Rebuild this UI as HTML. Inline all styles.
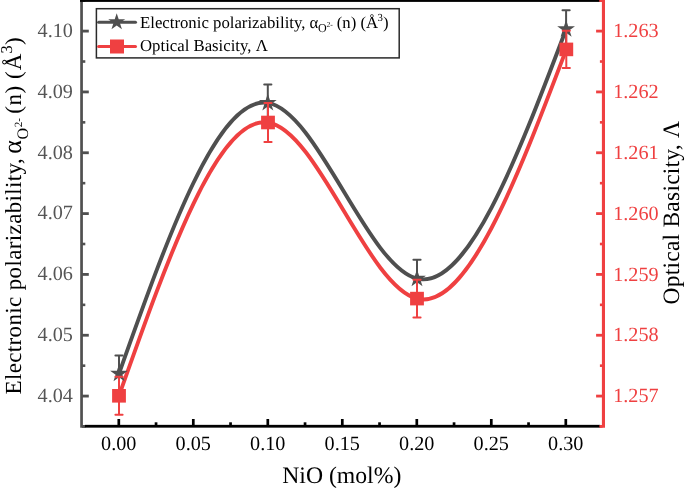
<!DOCTYPE html>
<html><head><meta charset="utf-8"><style>
html,body{margin:0;padding:0;background:#fff;}
body{width:685px;height:488px;overflow:hidden;font-family:"Liberation Serif",serif;}
svg{display:block;text-rendering:geometricPrecision;will-change:transform;}
</style></head><body>
<svg width="685" height="488" viewBox="0 0 685 488">
<path d="M119.00,373.60 C168.60,234.24 218.20,94.88 267.80,102.90 C317.40,110.92 367.40,266.32 417.00,278.60 C466.60,290.88 516.50,160.04 566.10,29.20" fill="none" stroke="#4f4f4f" stroke-width="3.9"/>
<path d="M119.00,395.80 C168.67,255.30 218.33,114.80 268.00,122.50 C317.67,130.20 367.33,286.08 417.00,298.60 C466.67,311.12 516.63,180.26 566.30,49.40" fill="none" stroke="#ef4041" stroke-width="3.9"/>
<path d="M119.00,355.60V391.60M115.40,355.60H122.60M115.40,391.60H122.60" stroke="#4f4f4f" stroke-width="2" stroke-linecap="round" fill="none"/>
<path d="M267.80,84.40V121.40M264.20,84.40H271.40M264.20,121.40H271.40" stroke="#4f4f4f" stroke-width="2" stroke-linecap="round" fill="none"/>
<path d="M417.00,259.70V297.50M413.40,259.70H420.60M413.40,297.50H420.60" stroke="#4f4f4f" stroke-width="2" stroke-linecap="round" fill="none"/>
<path d="M566.10,10.20V48.20M562.50,10.20H569.70M562.50,48.20H569.70" stroke="#4f4f4f" stroke-width="2" stroke-linecap="round" fill="none"/>
<path d="M119.00,364.25 L121.10,370.71 L127.89,370.71 L122.40,374.70 L124.50,381.16 L119.00,377.17 L113.50,381.16 L115.60,374.70 L110.11,370.71 L116.90,370.71Z" fill="#4f4f4f"/>
<path d="M267.80,93.55 L269.90,100.01 L276.69,100.01 L271.20,104.00 L273.30,110.46 L267.80,106.47 L262.30,110.46 L264.40,104.00 L258.91,100.01 L265.70,100.01Z" fill="#4f4f4f"/>
<path d="M417.00,269.25 L419.10,275.71 L425.89,275.71 L420.40,279.70 L422.50,286.16 L417.00,282.17 L411.50,286.16 L413.60,279.70 L408.11,275.71 L414.90,275.71Z" fill="#4f4f4f"/>
<path d="M566.10,19.85 L568.20,26.31 L574.99,26.31 L569.50,30.30 L571.60,36.76 L566.10,32.77 L560.60,36.76 L562.70,30.30 L557.21,26.31 L564.00,26.31Z" fill="#4f4f4f"/>
<path d="M119.00,376.80V414.80M115.40,376.80H122.60M115.40,414.80H122.60" stroke="#ef4041" stroke-width="2" stroke-linecap="round" fill="none"/>
<rect x="112.10" y="389.00" width="13.8" height="13.6" fill="#ef4041"/>
<path d="M268.00,102.90V142.10M264.40,102.90H271.60M264.40,142.10H271.60" stroke="#ef4041" stroke-width="2" stroke-linecap="round" fill="none"/>
<rect x="261.10" y="115.70" width="13.8" height="13.6" fill="#ef4041"/>
<path d="M417.00,279.80V317.40M413.40,279.80H420.60M413.40,317.40H420.60" stroke="#ef4041" stroke-width="2" stroke-linecap="round" fill="none"/>
<rect x="410.10" y="291.80" width="13.8" height="13.6" fill="#ef4041"/>
<path d="M566.30,30.80V68.00M562.70,30.80H569.90M562.70,68.00H569.90" stroke="#ef4041" stroke-width="2" stroke-linecap="round" fill="none"/>
<rect x="559.40" y="42.60" width="13.8" height="13.6" fill="#ef4041"/>
<rect x="117.45" y="419.0" width="2.7" height="6" fill="#000"/><rect x="154.70" y="422.3" width="2.7" height="3" fill="#000"/><rect x="191.95" y="419.0" width="2.7" height="6" fill="#000"/><rect x="229.20" y="422.3" width="2.7" height="3" fill="#000"/><rect x="266.45" y="419.0" width="2.7" height="6" fill="#000"/><rect x="303.70" y="422.3" width="2.7" height="3" fill="#000"/><rect x="340.95" y="419.0" width="2.7" height="6" fill="#000"/><rect x="378.20" y="422.3" width="2.7" height="3" fill="#000"/><rect x="415.45" y="419.0" width="2.7" height="6" fill="#000"/><rect x="452.70" y="422.3" width="2.7" height="3" fill="#000"/><rect x="489.95" y="419.0" width="2.7" height="6" fill="#000"/><rect x="527.20" y="422.3" width="2.7" height="3" fill="#000"/><rect x="564.45" y="419.0" width="2.7" height="6" fill="#000"/>
<rect x="82" y="29.70" width="6.8" height="2.8" fill="#505050"/><rect x="82" y="60.22" width="3.3" height="2.6" fill="#505050"/><rect x="82" y="90.53" width="6.8" height="2.8" fill="#505050"/><rect x="82" y="121.05" width="3.3" height="2.6" fill="#505050"/><rect x="82" y="151.36" width="6.8" height="2.8" fill="#505050"/><rect x="82" y="181.87" width="3.3" height="2.6" fill="#505050"/><rect x="82" y="212.19" width="6.8" height="2.8" fill="#505050"/><rect x="82" y="242.70" width="3.3" height="2.6" fill="#505050"/><rect x="82" y="273.02" width="6.8" height="2.8" fill="#505050"/><rect x="82" y="303.54" width="3.3" height="2.6" fill="#505050"/><rect x="82" y="333.85" width="6.8" height="2.8" fill="#505050"/><rect x="82" y="364.37" width="3.3" height="2.6" fill="#505050"/><rect x="82" y="394.68" width="6.8" height="2.8" fill="#505050"/><rect x="82" y="425.20" width="3.3" height="2.6" fill="#505050"/><rect x="82" y="-0.61" width="3.3" height="2.6" fill="#505050"/>
<rect x="596.1" y="29.70" width="6.5" height="2.8" fill="#ef4041"/><rect x="599.9" y="60.22" width="2.7" height="2.6" fill="#ef4041"/><rect x="596.1" y="90.53" width="6.5" height="2.8" fill="#ef4041"/><rect x="599.9" y="121.05" width="2.7" height="2.6" fill="#ef4041"/><rect x="596.1" y="151.36" width="6.5" height="2.8" fill="#ef4041"/><rect x="599.9" y="181.87" width="2.7" height="2.6" fill="#ef4041"/><rect x="596.1" y="212.19" width="6.5" height="2.8" fill="#ef4041"/><rect x="599.9" y="242.70" width="2.7" height="2.6" fill="#ef4041"/><rect x="596.1" y="273.02" width="6.5" height="2.8" fill="#ef4041"/><rect x="599.9" y="303.54" width="2.7" height="2.6" fill="#ef4041"/><rect x="596.1" y="333.85" width="6.5" height="2.8" fill="#ef4041"/><rect x="599.9" y="364.37" width="2.7" height="2.6" fill="#ef4041"/><rect x="596.1" y="394.68" width="6.5" height="2.8" fill="#ef4041"/><rect x="599.9" y="425.20" width="2.7" height="2.6" fill="#ef4041"/>
<path d="M80.2,0 H82.9 V424.9 H85.2 V427.7 H80.2 Z" fill="#505050"/>
<rect x="84.9" y="424.85" width="515.3" height="2.8" fill="#000"/>
<rect x="80.0" y="0" width="520" height="1.9" fill="#000"/>
<path d="M599.3,0 H605 V427.8 H599.4 V424.9 H601.9 V1.9 H599.3 Z" fill="#ef4041"/>
<text x="118.70" y="450.3" font-family="Liberation Serif, serif" font-size="20.2" text-anchor="middle" fill="#000">0.00</text>
<text x="193.20" y="450.3" font-family="Liberation Serif, serif" font-size="20.2" text-anchor="middle" fill="#000">0.05</text>
<text x="267.70" y="450.3" font-family="Liberation Serif, serif" font-size="20.2" text-anchor="middle" fill="#000">0.10</text>
<text x="342.20" y="450.3" font-family="Liberation Serif, serif" font-size="20.2" text-anchor="middle" fill="#000">0.15</text>
<text x="416.70" y="450.3" font-family="Liberation Serif, serif" font-size="20.2" text-anchor="middle" fill="#000">0.20</text>
<text x="491.20" y="450.3" font-family="Liberation Serif, serif" font-size="20.2" text-anchor="middle" fill="#000">0.25</text>
<text x="565.70" y="450.3" font-family="Liberation Serif, serif" font-size="20.2" text-anchor="middle" fill="#000">0.30</text>
<text x="72.9" y="36.95" font-family="Liberation Serif, serif" font-size="20.2" text-anchor="end" fill="#555555">4.10</text>
<text x="72.9" y="97.78" font-family="Liberation Serif, serif" font-size="20.2" text-anchor="end" fill="#555555">4.09</text>
<text x="72.9" y="158.61" font-family="Liberation Serif, serif" font-size="20.2" text-anchor="end" fill="#555555">4.08</text>
<text x="72.9" y="219.44" font-family="Liberation Serif, serif" font-size="20.2" text-anchor="end" fill="#555555">4.07</text>
<text x="72.9" y="280.27" font-family="Liberation Serif, serif" font-size="20.2" text-anchor="end" fill="#555555">4.06</text>
<text x="72.9" y="341.10" font-family="Liberation Serif, serif" font-size="20.2" text-anchor="end" fill="#555555">4.05</text>
<text x="72.9" y="401.93" font-family="Liberation Serif, serif" font-size="20.2" text-anchor="end" fill="#555555">4.04</text>
<text x="613.2" y="37.20" font-family="Liberation Serif, serif" font-size="20.2" text-anchor="start" fill="#ef4041">1.263</text>
<text x="613.2" y="98.03" font-family="Liberation Serif, serif" font-size="20.2" text-anchor="start" fill="#ef4041">1.262</text>
<text x="613.2" y="158.86" font-family="Liberation Serif, serif" font-size="20.2" text-anchor="start" fill="#ef4041">1.261</text>
<text x="613.2" y="219.69" font-family="Liberation Serif, serif" font-size="20.2" text-anchor="start" fill="#ef4041">1.260</text>
<text x="613.2" y="280.52" font-family="Liberation Serif, serif" font-size="20.2" text-anchor="start" fill="#ef4041">1.259</text>
<text x="613.2" y="341.35" font-family="Liberation Serif, serif" font-size="20.2" text-anchor="start" fill="#ef4041">1.258</text>
<text x="613.2" y="402.18" font-family="Liberation Serif, serif" font-size="20.2" text-anchor="start" fill="#ef4041">1.257</text>
<text x="341.8" y="482.6" font-family="Liberation Serif, serif" font-size="23.7" text-anchor="middle" fill="#000">NiO (mol%)</text>
<text transform="translate(679.3,304.4) rotate(-90)" font-family="Liberation Serif, serif" font-size="23.5" textLength="183.4" lengthAdjust="spacing" fill="#000">Optical Basicity, Λ</text>
<g transform="rotate(-90)" font-family="Liberation Serif, serif" fill="#000"><text x="-394.5" y="20.9" font-size="23" textLength="236.2" lengthAdjust="spacing">Electronic polarizability,</text><text x="-153.8" y="21.3" font-size="26">α</text><text x="-139.4" y="27.7" font-size="16">O</text><text x="-127.2" y="21.6" font-size="11">2-</text><text x="-113.8" y="20.9" font-size="23" textLength="28" lengthAdjust="spacing">(n)</text><text x="-78.9" y="20.9" font-size="23">(</text><text x="-70.24" y="20.9" font-size="23">Å</text><text x="-53.4" y="12.2" font-size="16.5">3</text><text x="-45.1" y="20.9" font-size="23">)</text></g>
<rect x="96.4" y="8.7" width="302.8" height="49.2" fill="#fff" stroke="#2a2a2a" stroke-width="1.5"/>
<path d="M98.6,22.2H135.5" stroke="#4f4f4f" stroke-width="3" stroke-linecap="round"/>
<path d="M116.70,13.15 L118.70,19.30 L125.16,19.30 L119.93,23.10 L121.93,29.25 L116.70,25.45 L111.47,29.25 L113.47,23.10 L108.24,19.30 L114.70,19.30Z" fill="#4f4f4f"/>
<path d="M98.6,46.4H135.5" stroke="#ef4041" stroke-width="3" stroke-linecap="round"/>
<rect x="110" y="39.5" width="14" height="14" fill="#ef4041"/>
<g font-family="Liberation Serif, serif" fill="#000"><text x="140" y="27.6" font-size="16.75">Electronic polarizability, α</text><text x="317.9" y="32.2" font-size="12">O</text><text x="326.4" y="26.8" font-size="7.6">2-</text><text x="336.8" y="27.6" font-size="16.75">(n) (Å</text><text x="377.6" y="20.6" font-size="10.8">3</text><text x="383.1" y="27.6" font-size="16.75">)</text><text x="140" y="51.4" font-size="16.75">Optical Basicity, Λ</text></g>
</svg>
</body></html>
